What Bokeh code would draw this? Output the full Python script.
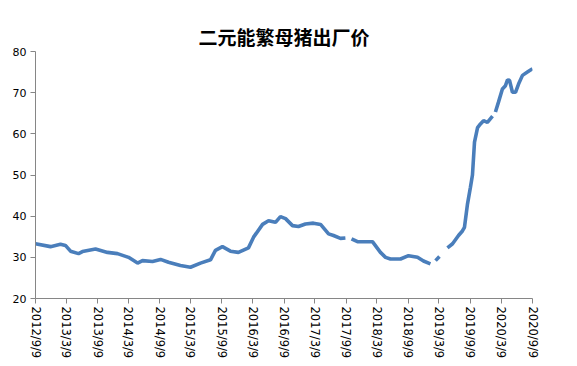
import math
import numpy as np
import pandas as pd
from bokeh.plotting import figure
from bokeh.models import FixedTicker, CustomJSTickFormatter, Range1d, ColumnDataSource, Title
from bokeh.embed import file_html
from bokeh.resources import INLINE

title_text = "二元能繁母猪出厂价"

dates = [
    "2012-09-09", "2012-12-06", "2013-02-03", "2013-03-04", "2013-04-03", "2013-05-20",
    "2013-06-12", "2013-08-28", "2013-11-06", "2014-01-04", "2014-03-10", "2014-05-02",
    "2014-05-31", "2014-07-29", "2014-09-14", "2014-10-31", "2015-01-09", "2015-03-09",
    "2015-05-07", "2015-07-05", "2015-08-03", "2015-09-13", "2015-10-30", "2015-12-16",
    "2016-02-13", "2016-03-14", "2016-05-06", "2016-06-10", "2016-07-21", "2016-08-19",
    "2016-09-18", "2016-10-29", "2016-12-03", "2017-01-13", "2017-03-01", "2017-04-12",
    "2017-05-29", "2017-06-27", "2017-08-07", "2017-09-05",
    "2017-09-25",
    "2017-10-11", "2017-11-15", "2018-02-11", "2018-03-30", "2018-04-29", "2018-05-28",
    "2018-07-26", "2018-09-11", "2018-11-03", "2018-12-08", "2019-01-18",
    "2019-02-02",
    "2019-02-17", "2019-03-12",
    "2019-04-05",
    "2019-04-28", "2019-05-28", "2019-07-02", "2019-07-25", "2019-08-06", "2019-08-24",
    "2019-09-10", "2019-09-22", "2019-10-04", "2019-10-22", "2019-11-08", "2019-11-26",
    "2019-12-19", "2020-01-18",
    "2020-01-26",
    "2020-02-04", "2020-02-22", "2020-03-16", "2020-04-03", "2020-04-15", "2020-04-27",
    "2020-05-14", "2020-06-01", "2020-06-19", "2020-07-12", "2020-08-10", "2020-09-09",
]
prices = [
    33.3, 32.6, 33.2, 32.9, 31.5, 30.9,
    31.4, 32.0, 31.2, 30.9, 30.0, 28.6,
    29.2, 29.0, 29.5, 28.8, 28.0, 27.6,
    28.6, 29.4, 31.7, 32.6, 31.5, 31.2,
    32.3, 34.9, 38.0, 38.9, 38.5, 39.9,
    39.4, 37.7, 37.5, 38.1, 38.3, 38.0,
    35.7, 35.3, 34.6, 34.7,
    None,
    34.5, 33.8, 33.8, 31.2, 30.0, 29.6,
    29.6, 30.4, 30.0, 29.1, 28.4,
    None,
    29.2, 30.2,
    None,
    32.3, 33.3, 35.3, 36.4, 37.3, 43.0,
    47.0, 50.0, 58.0, 61.5, 62.4, 63.2,
    62.8, 64.3,
    None,
    65.3, 67.7, 70.9, 71.7, 73.1, 73.0,
    70.1, 70.1, 72.1, 74.2, 75.0, 75.8,
]
tick_dates = [
    "2012-09-09", "2013-03-09", "2013-09-09", "2014-03-09", "2014-09-09",
    "2015-03-09", "2015-09-09", "2016-03-09", "2016-09-09", "2017-03-09",
    "2017-09-09", "2018-03-09", "2018-09-09", "2019-03-09", "2019-09-09",
    "2020-03-09", "2020-09-09",
]

x = pd.to_datetime(dates)
y = np.array([np.nan if v is None else v for v in prices], dtype=float)
src = ColumnDataSource(dict(x=x, y=y))

ticks_ms = [pd.Timestamp(d).value / 1e6 for d in tick_dates]

p = figure(width=577, height=366, x_axis_type="datetime",
           output_backend="svg", toolbar_location=None,
           x_range=Range1d(ticks_ms[0], ticks_ms[-1]), y_range=Range1d(20, 80),
           min_border_left=35, min_border_right=45, min_border_top=51, min_border_bottom=68)

p.line("x", "y", source=src, line_color="#4A7EBB", line_width=3.6)

# the built-in title slot (next to the frame) is used as an invisible spacer
p.title.text = " "
p.title.text_font_size = "2px"
p.title.standoff = 14
p.title.text_alpha = 0

# the visible title sits outside the spacer
main_title = Title(text=title_text, align="center", offset=0,
                   text_font="Noto Sans CJK SC", text_font_size="19px",
                   text_font_style="bold", text_color="#000000",
                   standoff=0, vertical_align="top")
p.add_layout(main_title, "above")

p.outline_line_color = None
p.grid.grid_line_color = None
p.background_fill_color = "white"
p.border_fill_color = "white"

p.yaxis.ticker = FixedTicker(ticks=[20, 30, 40, 50, 60, 70, 80])
p.yaxis.major_label_text_font = "DejaVu Sans"
p.yaxis.major_label_text_font_size = "11px"
p.yaxis.major_label_text_color = "#000000"
p.yaxis.axis_line_color = "#868686"
p.yaxis.major_tick_line_color = "#868686"
p.yaxis.major_tick_out = 5
p.yaxis.major_tick_in = 0
p.yaxis.minor_tick_line_color = None
p.yaxis.major_label_standoff = 4

p.xaxis.ticker = FixedTicker(ticks=ticks_ms)
p.xaxis.formatter = CustomJSTickFormatter(code="""
const d = new Date(tick);
return d.getUTCFullYear() + "/" + (d.getUTCMonth() + 1) + "/" + d.getUTCDate();
""")
p.xaxis.major_label_orientation = -math.pi / 2
p.xaxis.major_label_text_font = "DejaVu Sans"
p.xaxis.major_label_text_font_size = "11.5px"
p.xaxis.major_label_text_color = "#000000"
p.xaxis.axis_line_color = "#868686"
p.xaxis.major_tick_line_color = "#868686"
p.xaxis.major_tick_out = 5
p.xaxis.major_tick_in = 0
p.xaxis.minor_tick_line_color = None
p.xaxis.major_label_standoff = 3

open("out.html", "w").write(file_html(p, INLINE))
